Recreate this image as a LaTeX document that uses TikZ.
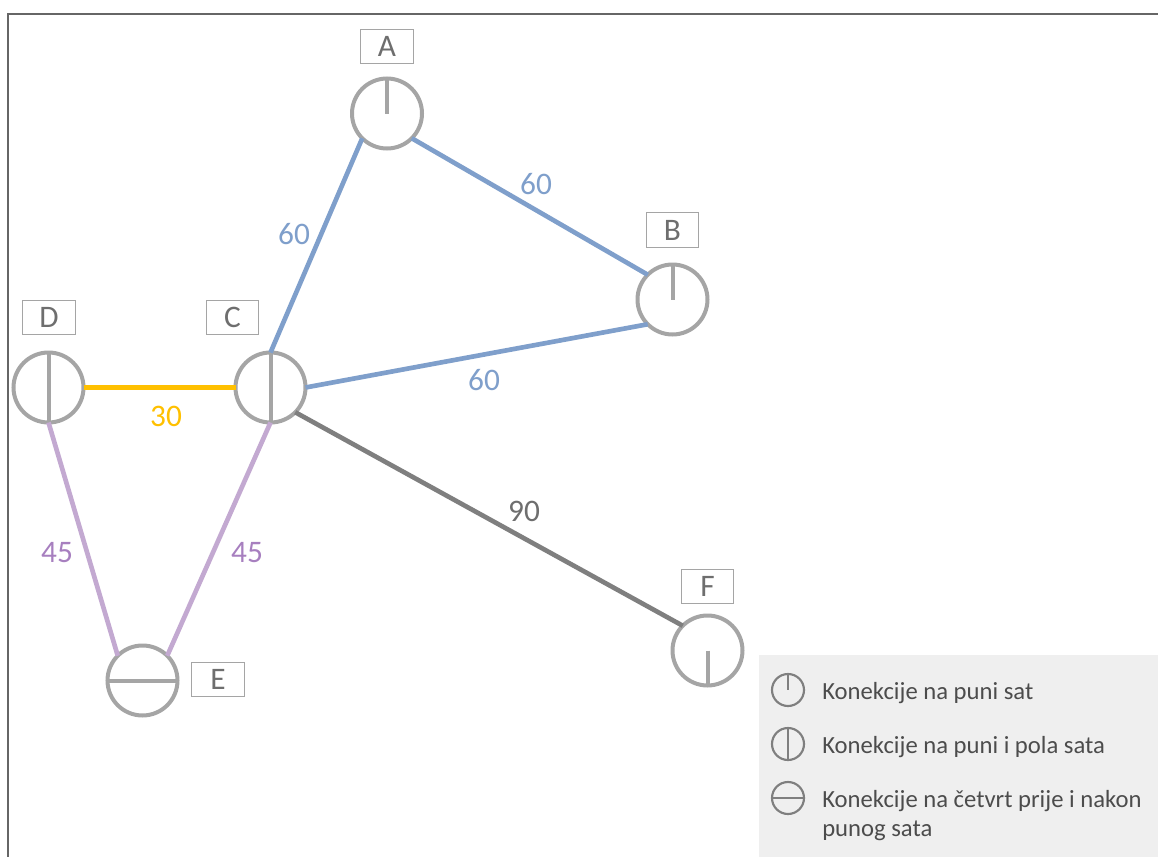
\documentclass[tikz,border=0pt]{standalone}
\usepackage{fontspec}
\setmainfont{Carlito}
\usepackage{xcolor}
\definecolor{ringgray}{HTML}{A5A5A5}
\definecolor{txtgray}{HTML}{6E6E6E}
\definecolor{linkblue}{HTML}{7F9FCB}
\definecolor{linkgold}{HTML}{FFC000}
\definecolor{linkviolet}{HTML}{C3A9D1}
\definecolor{txtviolet}{HTML}{A77FBF}
\definecolor{linkgray}{HTML}{7F7F7F}
\definecolor{legendbg}{HTML}{EFEFEF}
\definecolor{framegray}{HTML}{666666}
\tikzset{
  hub/.style={circle,draw=ringgray,line width=3pt,minimum size=52.5pt,inner sep=0pt,outer sep=0pt},
  tick/.style={ringgray,line width=3pt},
  namebox/.style={draw=ringgray,line width=0.8pt,minimum width=39.5pt,minimum height=26pt,inner sep=0pt,text=txtgray,font=\fontsize{23.5}{27}\selectfont},
  link/.style={line width=3.5pt},
  weight/.style={inner sep=0pt,font=\fontsize{23.5}{27}\selectfont},
  keyring/.style={circle,draw=linkgray,line width=1.6pt,minimum size=24pt,inner sep=0pt,outer sep=0pt},
  keytick/.style={linkgray,line width=1.6pt},
  keytext/.style={inner sep=0pt,text=black!70,font=\fontsize{18.5}{21.75}\selectfont},
}
\begin{document}
\begin{tikzpicture}[x=0.75pt,y=-0.75pt]
        \useasboundingbox (0,0) rectangle (1158,857);
        \draw[framegray,line width=1.5pt] (8,857) -- (8,14) -- (1158,14);
        \fill[legendbg] (759,655) rectangle (1158,857);
        \node[hub] (A) at (387,113.5) {};
        \node[hub] (B) at (672.5,299.5) {};
        \node[hub] (C) at (270.5,387.5) {};
        \node[hub] (D) at (48.5,387.5) {};
        \node[hub] (E) at (142.5,680.5) {};
        \node[hub] (F) at (707.5,650.5) {};
        \draw[tick] (A.north) -- (A.center);
        \draw[tick] (B.north) -- (B.center);
        \draw[tick] (C.north) -- (C.south);
        \draw[tick] (D.north) -- (D.south);
        \draw[tick] (E.west) -- (E.east);
        \draw[tick] (F.center) -- (F.south);
        \node[namebox] (nameA) at (387,46.5) {A};
        \node[namebox] (nameB) at (672.5,230) {B};
        \node[namebox] (nameC) at (232.5,317.5) {C};
        \node[namebox] (nameD) at (49,317.5) {D};
        \node[namebox] (nameE) at (218,679.5) {E};
        \node[namebox] (nameF) at (707.5,586.5) {F};
        \draw[link,linkblue] (A.south west) -- (C.north);
        \draw[link,linkblue] (A.south east) -- (B.north west);
        \draw[link,linkblue] (C.east) -- (B.south west);
        \draw[link,linkgold] (D.east) -- (C.west);
        \draw[link,linkviolet] (D.south) -- (E.north west);
        \draw[link,linkviolet] (C.south) -- (E.north east);
        \draw[link,linkgray] (C.south east) -- (F.north west);
        \node[weight,text=linkblue] (wAC) at (294,234) {60};
        \node[weight,text=linkblue] (wAB) at (536,184) {60};
        \node[weight,text=linkblue] (wCB) at (484,380) {60};
        \node[weight,text=linkgold] (wDC) at (166,416) {30};
        \node[weight,text=txtviolet] (wDE) at (57,552.5) {45};
        \node[weight,text=txtviolet] (wCE) at (247,552.5) {45};
        \node[weight,text=txtgray] (wCF) at (524,511) {90};
        \node[keyring] (keyA) at (788,690) {};
        \node[keyring] (keyB) at (788,744) {};
        \node[keyring] (keyC) at (788,798) {};
        \draw[keytick] (keyA.north) -- (keyA.center);
        \draw[keytick] (keyB.north) -- (keyB.south);
        \draw[keytick] (keyC.west) -- (keyC.east);
        \node[keytext,anchor=base west] (textA) at (822,699) {Konekcije na puni sat};
        \node[keytext,anchor=base west] (textB) at (822,753) {Konekcije na puni i pola sata};
        \node[keytext,anchor=west,align=left] (textC) at (822,816) {Konekcije na četvrt prije i nakon\\punog sata};
    \end{tikzpicture}
\end{document}
